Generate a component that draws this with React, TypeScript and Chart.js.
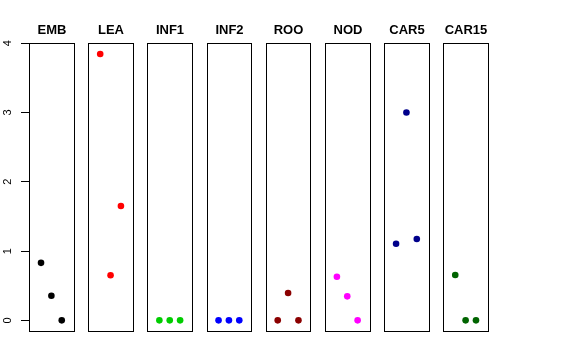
import React, { useEffect, useRef } from "react";
import { Chart, registerables } from "chart.js";

Chart.register(...registerables);

const categories = ["EMB", "LEA", "INF1", "INF2", "ROO", "NOD", "CAR5", "CAR15"];
const colors = ["#000000", "#FF0000", "#00CD00", "#0000FF", "#8B0000", "#FF00FF", "#00008B", "#006400"];
const positions = [1, 2, 3];

const EMB = [0.83, 0.355, 0];
const LEA = [3.845, 0.65, 1.65];
const INF1 = [0, 0, 0];
const INF2 = [0, 0, 0];
const ROO = [0, 0.394, 0];
const NOD = [0.63, 0.346, 0];
const CAR5 = [1.106, 3.0, 1.174];
const CAR15 = [0.654, 0, 0];
const seriesValues = [EMB, LEA, INF1, INF2, ROO, NOD, CAR5, CAR15];

const yTicks = [0, 1, 2, 3, 4];

const STEP = 5.71;
const XPAD = 0.16;
const XMIN = 0;
const XMAX = 4;
const YMIN = 0 - 0.154;
const YMAX = 4.004;

const FONT = "'Liberation Sans', Arial, Helvetica, sans-serif";

const panelPlugin = {
  id: "panels",
  afterDatasetsDraw(chart: any) {
    const ctx = chart.ctx;
    const xs = chart.scales.x;
    const area = chart.chartArea;
    ctx.save();
    categories.forEach((name, i) => {
      const l = Math.round(xs.getPixelForValue(i * STEP + XMIN - XPAD)) + 0.5;
      const r = Math.round(xs.getPixelForValue(i * STEP + XMAX + XPAD)) + 0.5;
      const t = Math.round(area.top) + 0.5;
      const b = Math.round(area.bottom) + 0.5;
      ctx.strokeStyle = "#000";
      ctx.lineWidth = 1;
      ctx.strokeRect(l, t, r - l, b - t);
      ctx.fillStyle = "#000";
      ctx.font = `bold 13px ${FONT}`;
      ctx.textAlign = "center";
      ctx.textBaseline = "alphabetic";
      ctx.fillText(name, (l + r) / 2, 34);
    });
    ctx.restore();
  },
};

export default function App() {
  const ref = useRef<HTMLCanvasElement | null>(null);
  useEffect(() => {
    if (!ref.current) return;
    const datasets = categories.map((name, i) => ({
      label: name,
      data: seriesValues[i].map((v, j) => ({ x: i * STEP + positions[j], y: v })),
      backgroundColor: colors[i],
      borderColor: colors[i],
      borderWidth: 0,
      pointRadius: 3.3,
      pointHoverRadius: 3.3,
    }));
    const chart = new Chart(ref.current, {
      type: "scatter",
      data: { datasets },
      options: {
        animation: false,
        responsive: false,
        events: [],
        layout: { padding: { top: 43, bottom: 29, right: 88, left: 0 } },
        plugins: { legend: { display: false }, title: { display: false }, tooltip: { enabled: false } },
        scales: {
          x: {
            type: "linear",
            display: false,
            min: XMIN - XPAD,
            max: (categories.length - 1) * STEP + XMAX + XPAD,
          },
          y: {
            type: "linear",
            min: YMIN,
            max: YMAX,
            afterBuildTicks: (s: any) => {
              s.ticks = yTicks.map((v) => ({ value: v }));
            },
            afterFit: (s: any) => {
              s.width = 29;
            },
            grid: { drawOnChartArea: false, drawTicks: true, tickLength: 8, color: "#000" },
            border: { display: false },
            ticks: {
              minRotation: 90,
              maxRotation: 90,
              crossAlign: "center",
              padding: 10,
              color: "#000",
              font: { size: 11, family: FONT },
            },
          },
        },
      },
      plugins: [panelPlugin],
    });
    return () => chart.destroy();
  }, []);
  return (
    <div style={{ position: "fixed", left: 0, top: 0, width: 576, height: 360, background: "#fff" }}>
      <canvas ref={ref} width={576} height={360} style={{ width: 576, height: 360 }} />
    </div>
  );
}
